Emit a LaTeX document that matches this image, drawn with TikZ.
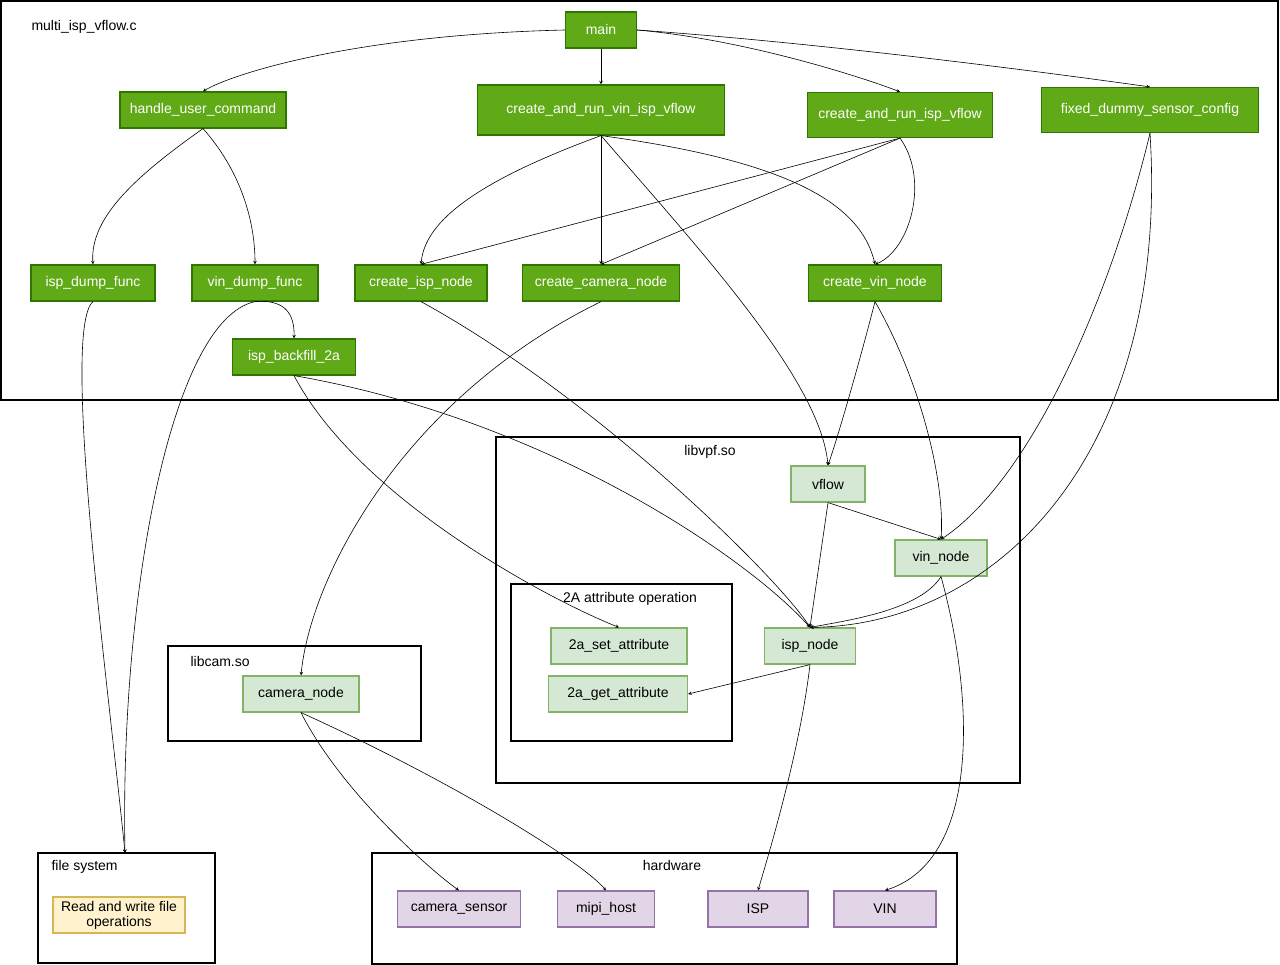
\documentclass[tikz,border=0pt]{standalone}
\usepackage{fontspec}
\setmainfont{Liberation Sans}
\usetikzlibrary{arrows}
\definecolor{fngreen}{RGB}{96,169,23}
\definecolor{fngreenline}{RGB}{45,118,0}
\definecolor{libgreen}{RGB}{213,232,212}
\definecolor{libgreenline}{RGB}{130,179,102}
\definecolor{hwpurple}{RGB}{225,213,231}
\definecolor{hwpurpleline}{RGB}{150,115,166}
\definecolor{fsyellow}{RGB}{255,242,204}
\definecolor{fsyellowline}{RGB}{214,182,86}
\tikzset{
  fnbox/.style={draw=fngreenline, fill=fngreen, text=white, line width=1.2pt, minimum height=36pt, inner xsep=5pt, font=\fontsize{14}{16}\selectfont},
  libbox/.style={draw=libgreenline, fill=libgreen, line width=1.2pt, minimum height=36pt, inner xsep=5pt, font=\fontsize{14}{16}\selectfont},
  hwbox/.style={draw=hwpurpleline, fill=hwpurple, line width=1.2pt, minimum height=36pt, font=\fontsize{14}{16}\selectfont},
  fsbox/.style={draw=fsyellowline, fill=fsyellow, line width=1.2pt, minimum height=36pt, align=center, font=\fontsize{14}{15}\selectfont},
  groupbox/.style={draw, line width=1.2pt},
  grouplabel/.style={font=\fontsize{14}{16}\selectfont},
  call/.style={-stealth, line width=0.6pt},
}
\begin{document}
\begin{tikzpicture}[x=1pt,y=-1pt]
\useasboundingbox (0,0) rectangle (1280,965);
% groups
\draw[groupbox] (1,1) rectangle (1278,400);
\node[grouplabel, anchor=west] (lbmain) at (28,27) {multi\_isp\_vflow.c};
\draw[groupbox] (496,437) rectangle (1020,783);
\node[grouplabel] (lbvpf) at (710,452) {libvpf.so};
\draw[groupbox] (511,584) rectangle (732,741);
\node[grouplabel] (lbattr) at (630,599) {2A attribute operation};
\draw[groupbox] (168,646) rectangle (421,741);
\node[grouplabel, anchor=west] (lbcam) at (187,661) {libcam.so};
\draw[groupbox] (38,853) rectangle (215,963);
\node[grouplabel, anchor=west] (lbfs) at (48,867) {file system};
\draw[groupbox] (372,853) rectangle (957,964);
\node[grouplabel] (lbhw) at (672,865) {hardware};
% functions
\node[fnbox, minimum width=71pt] (main) at (601,30) {main};
\node[fnbox, minimum width=166pt] (hand) at (203,110) {handle\_user\_command};
\node[fnbox, minimum width=247pt, minimum height=50pt] (vinisp) at (601,110) {create\_and\_run\_vin\_isp\_vflow};
\node[fnbox, minimum width=185pt, minimum height=45pt] (ispv) at (900,115) {create\_and\_run\_isp\_vflow};
\node[fnbox, minimum width=217pt, minimum height=45pt] (fixed) at (1150,110) {fixed\_dummy\_sensor\_config};
\node[fnbox, minimum width=124pt] (ispdump) at (93,283) {isp\_dump\_func};
\node[fnbox, minimum width=126pt] (vindump) at (255,283) {vin\_dump\_func};
\node[fnbox, minimum width=132pt] (cisp) at (421,283) {create\_isp\_node};
\node[fnbox, minimum width=157pt] (ccam) at (601,283) {create\_camera\_node};
\node[fnbox, minimum width=133pt] (cvin) at (875,283) {create\_vin\_node};
\node[fnbox, minimum width=123pt] (backfill) at (294,357) {isp\_backfill\_2a};
% libraries
\node[libbox, minimum width=74pt] (vflow) at (828,484) {vflow};
\node[libbox, minimum width=92pt] (vinnode) at (941,558) {vin\_node};
\node[libbox, minimum width=91pt] (ispnode) at (810,646) {isp\_node};
\node[libbox, minimum width=136pt] (setattr) at (619,646) {2a\_set\_attribute};
\node[libbox, minimum width=139pt] (getattr) at (618,694) {2a\_get\_attribute};
\node[libbox, minimum width=116pt] (camnode) at (301,694) {camera\_node};
\node[fsbox, minimum width=132pt] (rwfile) at (119,915) {Read and write file\\operations};
% hardware
\node[hwbox, minimum width=123pt] (sensor) at (459,909) {camera\_sensor};
\node[hwbox, minimum width=97pt] (mipi) at (606,909) {mipi\_host};
\node[hwbox, minimum width=100pt] (isphw) at (758,909) {ISP};
\node[hwbox, minimum width=102pt] (vinhw) at (885,909) {VIN};
\coordinate (fstop) at (125,853);
% calls
\draw[call] (main.west) .. controls (350,35) and (230,75) .. (hand.north);
\draw[call] (main) -- (vinisp);
\draw[call] (main.east) .. controls (750,40) and (870,80) .. (ispv.north);
\draw[call] (main.east) .. controls (850,45) and (1100,80) .. (fixed.north);
\draw[call] (hand.south) .. controls (130,180) and (90,220) .. (ispdump.north);
\draw[call] (hand.south) .. controls (240,170) and (255,220) .. (vindump.north);
\draw[call] (vinisp.south) .. controls (480,180) and (425,220) .. (cisp.north);
\draw[call] (vinisp.south) -- (ccam.north);
\draw[call] (vinisp.south) .. controls (780,160) and (860,200) .. (cvin.north);
\draw[call] (vinisp.south) .. controls (700,250) and (820,380) .. (vflow.north);
\draw[call] (ispv.south) -- (cisp.north);
\draw[call] (ispv.south) -- (ccam.north);
\draw[call] (ispv.south) .. controls (930,180) and (910,250) .. (cvin.north);
\draw[call] (fixed.south) .. controls (1110,300) and (1030,480) .. (vinnode.north);
\draw[call] (fixed.south) .. controls (1170,450) and (1000,625) .. (ispnode.north);
\draw[call] (ispdump.south) .. controls (60,330) and (110,700) .. (fstop);
\draw[call] (vindump.south) .. controls (170,320) and (120,600) .. (fstop);
\draw[call] (vindump.south) .. controls (275,300) and (295,305) .. (backfill.north);
\draw[call] (backfill.south) .. controls (360,500) and (550,600) .. (setattr.north);
\draw[call] (backfill.south) .. controls (550,420) and (750,560) .. (ispnode.north);
\draw[call] (cisp.south) .. controls (600,400) and (780,580) .. (ispnode.north);
\draw[call] (ccam.south) .. controls (400,400) and (310,580) .. (camnode.north);
\draw[call] (cvin.south) .. controls (860,360) and (840,430) .. (vflow.north);
\draw[call] (cvin.south) .. controls (920,380) and (945,480) .. (vinnode.north);
\draw[call] (vflow.south) -- (vinnode.north);
\draw[call] (vflow.south) -- (ispnode.north);
\draw[call] (vinnode.south) .. controls (920,610) and (850,620) .. (ispnode.north);
\draw[call] (vinnode.south) .. controls (975,700) and (980,860) .. (vinhw.north);
\draw[call] (ispnode.south) -- (getattr.east);
\draw[call] (ispnode.south) .. controls (800,750) and (770,850) .. (isphw.north);
\draw[call] (camnode.south) .. controls (340,790) and (430,870) .. (sensor.north);
\draw[call] (camnode.south) .. controls (450,780) and (580,860) .. (mipi.north);
\end{tikzpicture}
\end{document}
